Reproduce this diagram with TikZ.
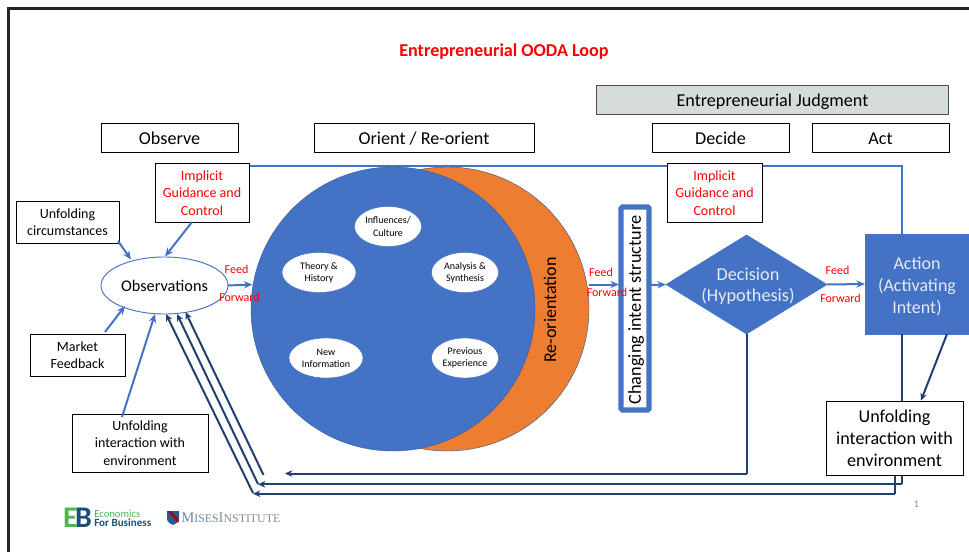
\documentclass[tikz,border=0pt]{standalone}
\usepackage{fontspec}
\setmainfont{Carlito}
\newfontfamily\logoserif{Liberation Serif}
\usetikzlibrary{arrows.meta,shapes.geometric}
\definecolor{ooblue}{HTML}{4472C4}
\definecolor{oodark}{HTML}{22406F}
\definecolor{oorange}{HTML}{ED7D31}
\definecolor{oored}{HTML}{FF0000}
\definecolor{oogray}{HTML}{D6DCDC}
\definecolor{oolight}{HTML}{E4EAF6}
\definecolor{ebgreen}{HTML}{4DB84E}
\definecolor{ebnavy}{HTML}{1D4E79}
\newcommand{\fs}[2]{\fontsize{#1}{#2}\selectfont}
\tikzset{
  x=0.75pt,y=-0.75pt,
  sized/.style n args={2}{minimum width=#1*0.75pt,minimum height=#2*0.75pt,inner sep=0pt,outer sep=0pt},
  headbox/.style={draw=black,line width=0.65pt,fill=white,font=\fs{13.6}{15},text=black,text depth=0.3pt,text height=11pt},
  txtbox/.style={draw=black,line width=0.65pt,fill=white,font=\fs{10.5}{13},align=center,text=black},
  redbox/.style={txtbox,text=oored},
  bigbox/.style={draw=black,line width=0.65pt,fill=white,font=\fs{13.6}{16.4},align=center,text=black},
  smalloval/.style={ellipse,draw=ooblue,line width=0.3pt,fill=white,font=\fs{7.5}{9.2},align=center,text=black},
  feedlabel/.style={font=\fs{9}{10},text=oored,inner sep=0pt},
  bluearrow/.style={draw=ooblue,line width=1.5pt,-{Stealth[length=6.5pt,width=5.5pt]}},
  darkarrow/.style={draw=oodark,line width=1.5pt,-{Stealth[length=5.5pt,width=5pt]}},
  darkline/.style={draw=oodark,line width=1.5pt},
  blueline/.style={draw=ooblue,line width=1.5pt},
}
\begin{document}
\begin{tikzpicture}
\useasboundingbox (0,0) rectangle (969,552);
% slide frame
\coordinate (frameA) at (8.5,552);
\coordinate (frameB) at (8.5,8.5);
\coordinate (frameC) at (969,8.5);
\draw[line width=1.6pt,black!85] (frameA) -- (frameB) -- (frameC);

\node[font=\bfseries\fs{13.6}{16},text=oored,inner sep=0pt] (title) at (504,51.5) {Entrepreneurial OODA Loop};

\node[headbox,fill=oogray,draw=black!70,sized={352}{29}] (judgment) at (772.5,99.5) {Entrepreneurial Judgment};
\node[headbox,sized={137}{29}] (observe) at (169.5,137.5) {Observe};
\node[headbox,sized={220}{29}] (orient) at (424,137.5) {Orient / Re-orient};
\node[headbox,sized={137}{29}] (decide) at (720.5,137.5) {Decide};
\node[headbox,sized={137}{29}] (act) at (880.5,137.5) {Act};

% moon
\node[circle,draw=ooblue!70!black,line width=0.3pt,fill=oorange,sized={284}{284}] (moon) at (447,309) {};
\node[circle,draw=ooblue!80!black,line width=0.3pt,fill=ooblue,sized={284}{284}] (sphere) at (393,309) {};
\node[smalloval,sized={67}{40}] (influences) at (388,226.5) {Influences/\\Culture};
\node[smalloval,sized={74}{40}] (theory) at (319,272.5) {Theory \&\\History};
\node[smalloval,sized={67}{40}] (analysis) at (465,272.5) {Analysis \&\\Synthesis};
\node[smalloval,sized={74}{40}] (newinfo) at (326,358) {New\\Information};
\node[smalloval,sized={67}{40}] (previous) at (465,358) {Previous\\Experience};
\node[rotate=90,font=\fs{13.5}{15},text=black,inner sep=0pt] (reorient) at (550,310) {Re-orientation};

% action, decision
\node[draw=ooblue,fill=ooblue,sized={104}{100},font=\fs{13.5}{16.6},align=center,text=oolight] (action) at (917,284) {\rule{0pt}{13.6pt}Action\\(Activating\\Intent)};
\node[diamond,draw=ooblue,fill=ooblue,shape aspect=1.626,sized={161}{99}] (decision) at (746.5,284.5) {};
\node[font=\fs{13.7}{16.2},align=center,text=oolight,inner sep=0pt] (decisiontext) at (748,286) {Decision\\(Hypothesis)};
\node[draw=ooblue,line width=3.8pt,fill=white,rounded corners=1pt,sized={28}{203}] (changing) at (635,308.5) {};
\node[rotate=90,font=\fs{13.7}{15},text=black,inner sep=0pt] (changingtext) at (636,310) {Changing intent structure};

% top feedback line
\coordinate (topB) at (901.5,166.5);
\coordinate (topA) at (245,166.5);
\coordinate (actTop) at (901.5,234);
\draw[blueline] (topA) -- (topB) -- (actTop);

% dark lines below action (drawn behind the box)
\coordinate (a1) at (901.5,334);
\coordinate (a2) at (901.5,484.3);
\coordinate (ret2) at (258,484.3);
\draw[darkline] (a1) -- (a2);
\draw[darkarrow] (a2) -- (ret2);
\coordinate (d1) at (747,334);
\coordinate (d2) at (747,473.5);
\coordinate (ret1) at (285,473.5);
\draw[darkline] (d1) -- (d2);
\draw[darkarrow] (d2) -- (ret1);
\coordinate (u1) at (894.5,470);
\coordinate (u2) at (894.5,493.7);
\coordinate (ret3) at (253,493.7);
\draw[darkline] (u1) -- (u2);
\draw[darkarrow] (u2) -- (ret3);

\node[redbox,sized={94}{59}] (implicitL) at (202,193) {Implicit\\Guidance and\\Control};
\node[redbox,sized={95}{59}] (implicitR) at (714.5,193) {Implicit\\Guidance and\\Control};
\node[txtbox,sized={103}{42}] (circ) at (67.5,222) {Unfolding\\circumstances};
\node[txtbox,sized={95}{42}] (market) at (77.5,355) {Market\\Feedback};
\node[txtbox,sized={136}{58}] (interL) at (140,443) {Unfolding\\interaction with\\environment};
\node[bigbox,sized={137}{74}] (interR) at (894.5,438) {Unfolding\\interaction with\\environment};
\node[ellipse,draw=ooblue,line width=0.7pt,fill=white,sized={127}{57},font=\fs{12.2}{15},text=black] (obs) at (164.5,285.5) {Observations};

% blue arrows
\coordinate (c1) at (118,241); \coordinate (c2) at (131,259.5);
\draw[bluearrow] (c1) -- (c2);
\coordinate (i1) at (192,222); \coordinate (i2) at (165,256.5);
\draw[bluearrow] (i1) -- (i2);
\coordinate (m1) at (105,332); \coordinate (m2) at (125,306);
\draw[bluearrow] (m1) -- (m2);
\coordinate (u3) at (122,417); \coordinate (u4) at (155,314);
\draw[bluearrow] (u3) -- (u4);
\coordinate (s1) at (252.5,284.5);
\draw[bluearrow] (obs.east) -- (s1);
\coordinate (f1) at (589,284.5); \coordinate (f2) at (619,284.5);
\draw[bluearrow] (f1) -- (f2);
\coordinate (f3) at (651,285); 
\draw[bluearrow] (f3) -- (decision.west);
\draw[bluearrow] (decision.east) -- (action.west);

% dark diagonals
\coordinate (h1) at (166,314); \coordinate (h2) at (177,314); \coordinate (h3) at (185.5,312);
\coordinate (e1) at (253,493); \coordinate (e2) at (258,484); \coordinate (e3) at (263.5,475);
\draw[darkarrow] (e1) -- (h1);
\draw[darkarrow] (e2) -- (h2);
\draw[darkarrow] (e3) -- (h3);
\coordinate (a3) at (947,334);
\coordinate (a4) at (921,400.5);
\draw[darkarrow] (a3) -- (a4);

% labels
\node[feedlabel] (feed1) at (236.5,269.5) {Feed};
\node[feedlabel] (fwd1) at (239.5,297.5) {Forward};
\node[feedlabel] (feed2) at (601,272.5) {Feed};
\node[feedlabel] (fwd2) at (607,292.5) {Forward};
\node[feedlabel] (feed3) at (837.5,270.5) {Feed};
\node[feedlabel] (fwd3) at (840.5,298.5) {Forward};
\node[font=\fs{7.5}{9},text=black!45,inner sep=0pt] (pagenum) at (916.5,504) {1};

% logos
\node[font=\bfseries\fs{22.5}{24},text=ebgreen,inner sep=0pt] (logoE) at (70.5,517.5) {E};
\node[font=\bfseries\fs{22.5}{24},text=ebnavy,inner sep=0pt] (logoB) at (83.5,517.5) {B};
\node[font=\fs{8}{9},text=ebgreen,anchor=west,inner sep=0pt] (logoEcon) at (94,513.5) {Economics};
\node[font=\bfseries\fs{8.3}{9},text=ebnavy,anchor=west,inner sep=0pt] (logoBiz) at (94,523) {For Business};
\fill[ebnavy!70!ooblue] (167,511) -- (179,511) -- (179,519) .. controls (179,522) and (175,524) .. (173,525) .. controls (171,524) and (167,522) .. (167,519) -- cycle;
\fill[red!65!black] (168,511) -- (171,511) -- (179,520) -- (178,523) -- cycle;
\node[anchor=west,inner sep=0pt,font=\logoserif\fs{11}{12},text=ebnavy!65] (logoMises) at (181,518) {M\fs{8.9}{12}ISES\textcolor{black!45}{\fs{11}{12}I\fs{8.9}{12}NSTITUTE}};
\end{tikzpicture}
\end{document}
